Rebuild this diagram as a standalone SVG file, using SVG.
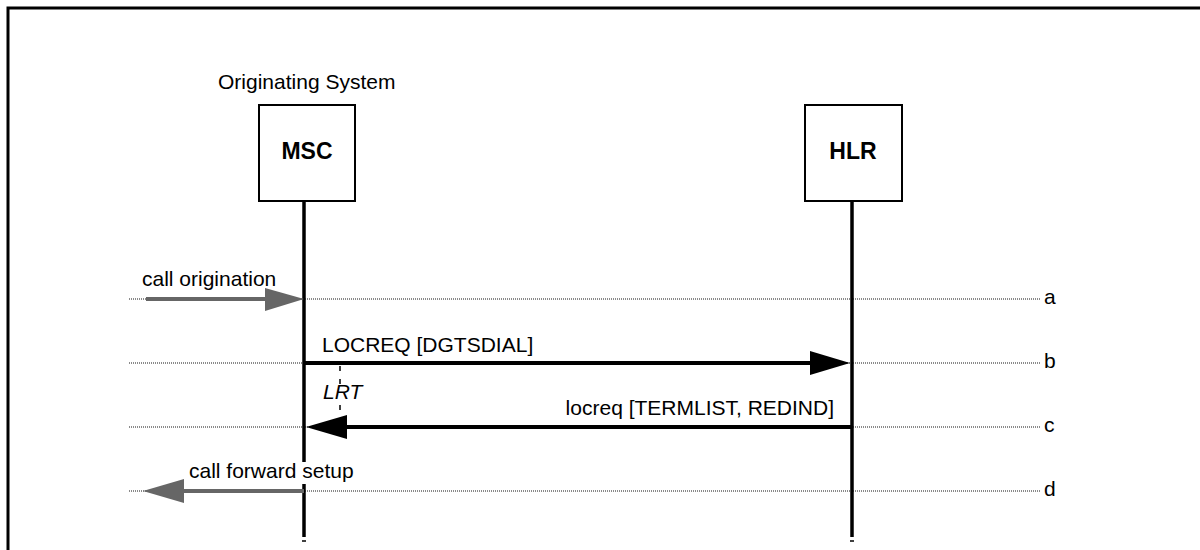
<svg xmlns="http://www.w3.org/2000/svg" width="1200" height="550" viewBox="0 0 1200 550">
<defs>
<style>
text{font-family:"Liberation Sans",Arial,sans-serif;font-size:21px;fill:#000}
.bold{font-weight:bold;font-size:23px}
.box{fill:#fff;stroke:#000;stroke-width:2}
.life{stroke:#000;stroke-width:3.5}
.guide{stroke:#8a8a8a;stroke-width:2;stroke-dasharray:1,1}
.msg{stroke:#000;stroke-width:4}
.ext{stroke:#666;stroke-width:4}
.bg{fill:#fff}
</style>
</defs>
<rect width="1200" height="550" fill="#fff"/>
<path d="M8,550 V8 H1200" fill="none" stroke="#000" stroke-width="3"/>
<text x="218" y="89">Originating System</text>
<g id="guides">
<line class="guide" x1="129" y1="299" x2="1040" y2="299"/>
<line class="guide" x1="129" y1="363" x2="1040" y2="363"/>
<line class="guide" x1="129" y1="427" x2="1040" y2="427"/>
<line class="guide" x1="129" y1="491" x2="1040" y2="491"/>
<text x="1044" y="304">a</text>
<text x="1044" y="368">b</text>
<text x="1044" y="432">c</text>
<text x="1044" y="496">d</text>
</g>
<g id="msc">
<rect class="box" x="259" y="105" width="96" height="96"/>
<text class="bold" x="307" y="159" text-anchor="middle">MSC</text>
<line class="life" x1="304" y1="201" x2="304" y2="537"/>
<line stroke="#000" stroke-width="1.5" x1="302" y1="541" x2="306" y2="541"/>
</g>
<g id="hlr">
<rect class="box" x="805" y="105" width="97" height="96"/>
<text class="bold" x="853" y="159" text-anchor="middle">HLR</text>
<line class="life" x1="852" y1="201" x2="852" y2="537"/>
<line stroke="#000" stroke-width="1.5" x1="850" y1="541" x2="854" y2="541"/>
</g>
<g id="connectors">
<line class="ext" x1="146" y1="299" x2="268" y2="299"/>
<polygon points="265,288 304,299 265,311" fill="#666"/>
<text x="142" y="286">call origination</text>
<line class="msg" x1="305" y1="363" x2="812" y2="363"/>
<polygon points="810,351 850,363 810,375" fill="#000"/>
<text x="322" y="352">LOCREQ [DGTSDIAL]</text>
<line stroke="#000" stroke-width="1.5" stroke-dasharray="5,8" x1="340" y1="366" x2="340" y2="425"/>
<rect class="bg" x="321" y="384" width="43" height="19"/>
<text x="323" y="399" font-style="italic">LRT</text>
<line class="msg" x1="345" y1="427" x2="851" y2="427"/>
<polygon points="347,415 306,427 347,439" fill="#000"/>
<text x="834" y="415" text-anchor="end">locreq [TERMLIST, REDIND]</text>
<line class="ext" x1="182" y1="491" x2="304" y2="491"/>
<polygon points="184,479 143,491 184,503" fill="#666"/>
<rect class="bg" x="187" y="462" width="171" height="22"/>
<text x="189" y="478">call forward setup</text>
</g>
</svg>
